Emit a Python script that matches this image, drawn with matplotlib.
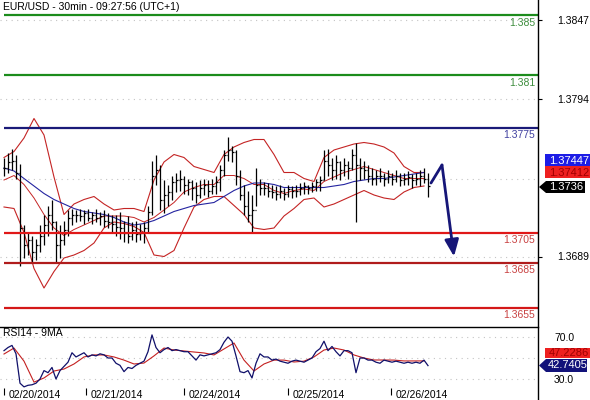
import matplotlib
matplotlib.use("Agg")
import matplotlib.pyplot as plt
from matplotlib.patches import Polygon
from matplotlib.lines import Line2D
import numpy as np

plt.rcParams["font.family"] = ["Liberation Sans", "DejaVu Sans"]

# ---- data -----------------------------------------------------------------
# price bars (one per slot pair), EUR/USD 30min
bar_high = [1.3755, 1.3758, 1.3761, 1.3757, 1.3751, 1.3710, 1.3705, 1.3703, 1.3701, 1.3710,
            1.3717, 1.3723, 1.3727, 1.3713, 1.3710, 1.3713, 1.3720, 1.3721, 1.3720, 1.3721,
            1.3720, 1.3721, 1.3719, 1.3721, 1.3719, 1.3720, 1.3718, 1.3717, 1.3717, 1.3719,
            1.3713, 1.3716, 1.3712, 1.3713, 1.3711, 1.3712, 1.3723, 1.3753, 1.3757, 1.3750,
            1.3740, 1.3737, 1.3743, 1.3745, 1.3747, 1.3743, 1.3741, 1.3740, 1.3739, 1.3740,
            1.3741, 1.3740, 1.3741, 1.3743, 1.3750, 1.3760, 1.3769, 1.3763, 1.3760, 1.3747,
            1.3737, 1.3733, 1.3730, 1.3748, 1.3741, 1.3739, 1.3738, 1.3737, 1.3736, 1.3737,
            1.3735, 1.3737, 1.3736, 1.3737, 1.3738, 1.3739, 1.3737, 1.3739, 1.3741, 1.3743,
            1.3760, 1.3761, 1.3755, 1.3757, 1.3753, 1.3755, 1.3753, 1.3761, 1.3765, 1.3755,
            1.3753, 1.3750, 1.3748, 1.3747, 1.3748, 1.3745, 1.3747, 1.3745, 1.3747, 1.3745,
            1.3745, 1.3746, 1.3744, 1.3745, 1.3747, 1.3748, 1.3745]
bar_low = [1.3743, 1.3745, 1.3747, 1.3741, 1.3683, 1.3688, 1.3690, 1.3685, 1.3687, 1.3692,
           1.3697, 1.3703, 1.3707, 1.3685, 1.3688, 1.3697, 1.3703, 1.3710, 1.3712, 1.3713,
           1.3711, 1.3713, 1.3711, 1.3712, 1.3710, 1.3709, 1.3708, 1.3705, 1.3703, 1.3701,
           1.3699, 1.3698, 1.3700, 1.3699, 1.3700, 1.3698, 1.3705, 1.3717, 1.3737, 1.3720,
           1.3718, 1.3723, 1.3727, 1.3732, 1.3733, 1.3731, 1.3730, 1.3727, 1.3725, 1.3728,
           1.3730, 1.3729, 1.3731, 1.3731, 1.3733, 1.3743, 1.3753, 1.3752, 1.3737, 1.3727,
           1.3717, 1.3712, 1.3705, 1.3723, 1.3730, 1.3730, 1.3729, 1.3728, 1.3727, 1.3728,
           1.3727, 1.3729, 1.3728, 1.3729, 1.3730, 1.3731, 1.3731, 1.3732, 1.3733, 1.3733,
           1.3740, 1.3743, 1.3740, 1.3741, 1.3740, 1.3743, 1.3741, 1.3747, 1.3712, 1.3740,
           1.3741, 1.3739, 1.3737, 1.3737, 1.3739, 1.3736, 1.3738, 1.3737, 1.3739, 1.3736,
           1.3737, 1.3737, 1.3735, 1.3737, 1.3736, 1.3738, 1.3729]
bar_close = [1.3748, 1.3752, 1.3753, 1.3745, 1.3708, 1.3697, 1.3700, 1.3692, 1.3697, 1.3703,
             1.3710, 1.3717, 1.3712, 1.3697, 1.3700, 1.3707, 1.3715, 1.3717, 1.3717, 1.3716,
             1.3718, 1.3715, 1.3717, 1.3715, 1.3716, 1.3713, 1.3712, 1.3711, 1.3709, 1.3708,
             1.3705, 1.3703, 1.3707, 1.3704, 1.3705, 1.3708, 1.3719, 1.3743, 1.3747, 1.3727,
             1.3730, 1.3732, 1.3739, 1.3740, 1.3741, 1.3737, 1.3739, 1.3735, 1.3730, 1.3735,
             1.3737, 1.3733, 1.3736, 1.3739, 1.3747, 1.3757, 1.3760, 1.3759, 1.3743, 1.3730,
             1.3723, 1.3717, 1.3720, 1.3737, 1.3735, 1.3735, 1.3733, 1.3732, 1.3731, 1.3733,
             1.3731, 1.3734, 1.3733, 1.3733, 1.3735, 1.3736, 1.3735, 1.3736, 1.3739, 1.3740,
             1.3753, 1.3750, 1.3747, 1.3752, 1.3747, 1.3750, 1.3748, 1.3757, 1.3750, 1.3748,
             1.3747, 1.3743, 1.3741, 1.3743, 1.3743, 1.3741, 1.3743, 1.3741, 1.3743, 1.3740,
             1.3741, 1.3742, 1.3740, 1.3741, 1.3743, 1.3741, 1.3736]

# Bollinger bands + moving average, sampled every 5 slots
bb_upper = [1.3755, 1.3759, 1.3768, 1.3781, 1.3770, 1.3742, 1.3717, 1.3724, 1.3727, 1.3729,
            1.3724, 1.3720, 1.3721, 1.3721, 1.3719, 1.3740, 1.3752, 1.3757, 1.3755, 1.3749,
            1.3747, 1.3745, 1.3757, 1.3762, 1.3765, 1.3767, 1.3767, 1.3757, 1.3745, 1.3745,
            1.3741, 1.3739, 1.3755, 1.3760, 1.3762, 1.3764, 1.3765, 1.3764, 1.3762, 1.3758,
            1.3749, 1.3745, 1.3745]
bb_mid = [1.3740, 1.3743, 1.3737, 1.3728, 1.3717, 1.3708, 1.3703, 1.3707, 1.3710, 1.3713,
          1.3716, 1.3716, 1.3716, 1.3715, 1.3712, 1.3715, 1.3720, 1.3725, 1.3732, 1.3735,
          1.3737, 1.3737, 1.3743, 1.3743, 1.3741, 1.3737, 1.3737, 1.3733, 1.3731, 1.3733,
          1.3734, 1.3733, 1.3739, 1.3742, 1.3745, 1.3747, 1.3749, 1.3747, 1.3745, 1.3743,
          1.3741, 1.3741, 1.3741]
bb_lower = [1.3722, 1.3721, 1.3705, 1.3681, 1.3668, 1.3679, 1.3688, 1.3690, 1.3693, 1.3698,
            1.3708, 1.3712, 1.3711, 1.3709, 1.3705, 1.3690, 1.3689, 1.3693, 1.3708, 1.3722,
            1.3727, 1.3729, 1.3729, 1.3723, 1.3717, 1.3708, 1.3707, 1.3708, 1.3716, 1.3721,
            1.3727, 1.3728, 1.3722, 1.3724, 1.3727, 1.3730, 1.3733, 1.3730, 1.3728, 1.3727,
            1.3732, 1.3735, 1.3736]
ma_line = [1.3748, 1.3746, 1.3741, 1.3736, 1.3731, 1.3727, 1.3724, 1.3721, 1.3719, 1.3718,
           1.3717, 1.3715, 1.3712, 1.3710, 1.3711, 1.3713, 1.3716, 1.3719, 1.3721, 1.3723,
           1.3724, 1.3725, 1.3729, 1.3733, 1.3736, 1.3738, 1.3738, 1.3737, 1.3735, 1.3735,
           1.3735, 1.3735, 1.3735, 1.3736, 1.3737, 1.3739, 1.3740, 1.3741, 1.3741, 1.3742,
           1.3743, 1.3744, 1.3745]

# RSI14 per bar, and its 9MA sampled every 5 slots
rsi = [57, 60, 62, 54, 26, 22.5, 24, 24.5, 26, 30,
       38, 36, 41, 30, 38, 42, 46, 55, 51, 53,
       55, 51, 53, 52, 54, 53, 50, 50, 45, 43,
       37, 41, 40, 43, 45, 47, 56, 72, 60, 55,
       58, 60, 57, 58, 57, 56, 56, 52, 48, 53,
       52, 53, 54, 55, 58, 65, 70, 66, 52, 37,
       36, 38, 31, 45, 54, 51, 51, 48, 49, 47,
       46, 45, 47, 48, 47, 46, 48, 50, 56, 59,
       66, 57, 61, 56, 52, 57, 57, 55, 36, 50,
       50, 48, 48, 46, 45, 48, 47, 46, 47, 46,
       45, 46, 45, 46, 45, 48, 42.74]
rsi_ma = [53.8, 59.5, 47.0, 27.0, 31.0, 37.6, 39.5, 44.3, 51.0, 52.9,
          52.9, 51.0, 48.0, 44.3, 45.2, 52.0, 59.5, 57.6, 56.7, 55.7,
          54.8, 52.9, 58.6, 64.3, 48.0, 37.6, 44.3, 48.0, 48.0, 46.2,
          47.0, 51.0, 57.6, 59.5, 57.6, 52.9, 50.0, 48.1, 48.1, 48.0,
          47.2, 47.2, 47.23]

levels = [1.385, 1.381, 1.3775, 1.3705, 1.3685, 1.3655]
level_labels = ["1.385", "1.381", "1.3775", "1.3705", "1.3685", "1.3655"]
level_colors = ["#1c8c1c", "#1c8c1c", "#1a1a78", "#e01818", "#b01c1c", "#d41818"]
level_text_colors = ["#3c8c3c", "#3c8c3c", "#4040a0", "#c84040", "#c84040", "#c84040"]

price_grid = [1.3847, 1.3794, 1.3741, 1.3689]
price_ticks = [1.3847, 1.3794, 1.3689]
day_slots = [1, 42, 91, 143, 194.5]
day_labels = ["02/20/2014", "02/21/2014", "02/24/2014", "02/25/2014", "02/26/2014"]

# ---- layout ---------------------------------------------------------------
W, H = 590, 400
fig = plt.figure(figsize=(W / 100, H / 100), dpi=100)
fig.patch.set_facecolor("white")
RIGHT = 538


def fbox(x0, y0, x1, y1):
    return [x0 / W, 1 - y1 / H, (x1 - x0) / W, (y1 - y0) / H]


ax = fig.add_axes(fbox(0, 0, RIGHT, 325))
rax = fig.add_axes(fbox(0, 327, RIGHT, 388))

bar_x = np.arange(len(bar_close)) * 2 + 1
band_x = np.arange(len(bb_upper)) * 5 + 1
XMIN, XMAX = -1, 268

# ---- price panel ----------------------------------------------------------
for t in price_grid:
    ax.axhline(t, color="#c4c4c4", lw=0.8, ls=(0, (1, 4)), zorder=0)

ax.plot(band_x, bb_upper, color="#c42424", lw=0.8, zorder=2)
ax.plot(band_x, bb_lower, color="#c42424", lw=0.8, zorder=2)
ax.plot(band_x, bb_mid, color="#c42424", lw=0.7, zorder=2)
ax.plot(band_x, ma_line, color="#2424a0", lw=0.8, zorder=2)

bar_open = np.r_[bar_close[0], bar_close[:-1]]
ax.vlines(bar_x, bar_low, bar_high, color="black", lw=0.9, zorder=3)
ax.hlines(bar_open, bar_x - 0.75, bar_x, color="black", lw=0.9, zorder=3)
ax.hlines(bar_close, bar_x, bar_x + 0.75, color="black", lw=0.9, zorder=3)

for lv, lab, c, tc in zip(levels, level_labels, level_colors, level_text_colors):
    ax.hlines(lv, 1, XMAX, color=c, lw=1.6, zorder=4)
    ax.annotate(lab, xy=(1, lv), xycoords=("axes fraction", "data"),
                xytext=(-2, -2), textcoords="offset points",
                ha="right", va="top", fontsize=7.5, color=tc)

# forecast arrow
navy = "#161678"
ax.plot([214.5, 220], [1.3738, 1.3750], color=navy, lw=2.0, zorder=5,
        solid_capstyle="round")
ax.annotate("", xy=(226, 1.3689), xytext=(220, 1.3750),
            arrowprops=dict(arrowstyle="-|>,head_length=1.0,head_width=0.42",
                            color=navy, lw=2.0, shrinkA=0, shrinkB=0), zorder=5)

ax.set_xlim(XMIN, XMAX)
ax.set_ylim(1.386 - 325 / 15000, 1.386)
ax.set_yticks(price_ticks)
ax.set_yticklabels([f"{t:.4f}" for t in price_ticks])
ax.yaxis.tick_right()
ax.tick_params(axis="y", length=3, pad=10.5, labelsize=7.5, colors="black")
ax.set_xticks([])
for s in ["left", "top", "bottom", "right"]:
    ax.spines[s].set_visible(False)
ax.text(3 / RIGHT, 1 - 7 / 325, "EUR/USD - 30min - 09:27:56 (UTC+1)",
        transform=ax.transAxes, fontsize=7.5, va="center", ha="left")

# ---- RSI panel ------------------------------------------------------------
for t in [70, 50, 30]:
    rax.axhline(t, color="#c4c4c4", lw=0.8, ls=(0, (1, 4)), zorder=0)
rax.plot(band_x, rsi_ma, color="#c42020", lw=0.8, zorder=2)
rax.plot(bar_x, rsi, color="#10106a", lw=0.9, zorder=3)
rax.set_xlim(XMIN, XMAX)
rax.set_ylim(50 - 30 / 1.05, 50 + 31 / 1.05)
rax.set_yticks([70, 30])
rax.set_yticklabels(["70.0", "30.0"])
rax.yaxis.tick_right()
rax.tick_params(axis="y", length=0, pad=11.5, labelsize=7.5)
rax.set_xticks(day_slots)
rax.set_xticklabels([])
rax.tick_params(axis="x", length=5, width=0.8, direction="out")
for s in ["left", "bottom", "right"]:
    rax.spines[s].set_visible(False)
rax.spines["top"].set_linewidth(1.0)
for xs, lab in zip(day_slots, day_labels):
    rax.annotate(lab, xy=(xs, 0), xycoords=("data", "axes fraction"),
                 xytext=(3, -1.5), textcoords="offset points",
                 ha="left", va="top", fontsize=7.5)
rax.text(3 / RIGHT, 1 - 6 / 61, "RSI14 - 9MA", transform=rax.transAxes,
         fontsize=7.5, va="center", ha="left")

# right border line
fig.add_artist(Line2D([RIGHT / W, RIGHT / W], [0, 1], color="black", lw=1.0,
                      transform=fig.transFigure))


# ---- value boxes ----------------------------------------------------------
def px_poly(points, color):
    pts = [(x / W, 1 - y / H) for x, y in points]
    fig.add_artist(Polygon(pts, closed=True, facecolor=color, edgecolor="none",
                           transform=fig.transFigure, zorder=10))


def px_text(x, y, s, color):
    fig.text(x / W, 1 - y / H, s, color=color, fontsize=8, ha="left",
             va="center", zorder=11)


px_poly([(545, 154), (590, 154), (590, 166), (545, 166)], "#1c1ce6")
px_text(549, 160.5, "1.37447", "white")
px_poly([(545, 166), (590, 166), (590, 178), (545, 178)], "#ee2020")
px_text(549, 172.5, "1.37412", "#a00000")
px_poly([(539, 187), (546, 181), (585, 181), (585, 193), (546, 193)], "black")
px_text(549, 187.5, "1.3736", "white")

px_poly([(545, 348), (590, 348), (590, 358), (545, 358)], "#ee2020")
px_text(549, 353, "47.2286", "#a00000")
px_poly([(539, 365.5), (546, 359), (587, 359), (587, 372), (546, 372)], "#12127a")
px_text(548, 365.5, "42.7405", "white")

fig.savefig("out.png", dpi=100, facecolor="white")
